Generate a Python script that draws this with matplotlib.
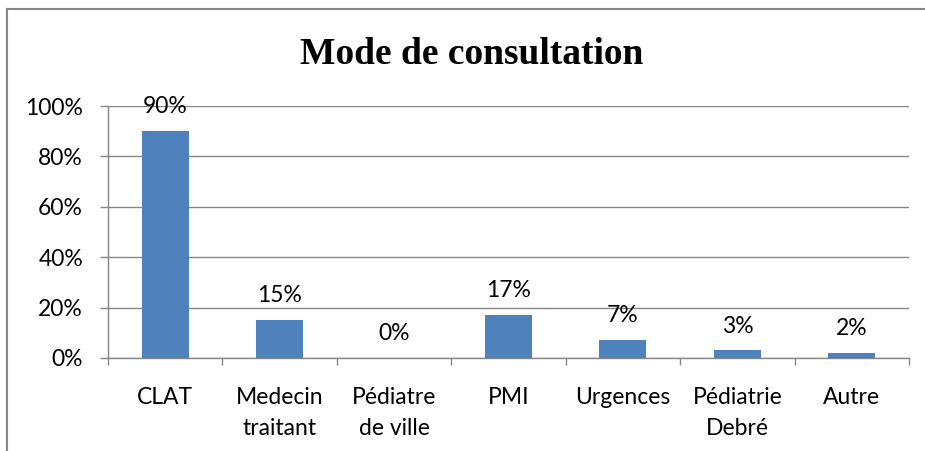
import matplotlib
matplotlib.use('Agg')
import matplotlib.pyplot as plt
from matplotlib.lines import Line2D
import numpy as np

# ── Data ─────────────────────────────────────────────────────
categories = ['CLAT', 'Medecin\ntraitant', 'Pédiatre\nde ville', 'PMI',
              'Urgences', 'Pédiatrie\nDebré', 'Autre']
values = [90, 15, 0, 17, 7, 3, 2]          # percent
y_ticks = [0, 20, 40, 60, 80, 100]
title = 'Mode de consultation'

BAR_COLOR = '#4F81BD'
GRID_COLOR = '#868686'
FS = 16.5

plt.rcParams['font.family'] = ['Lato', 'DejaVu Sans']

fig = plt.figure(figsize=(9.25, 4.51), dpi=100)
ax = fig.add_axes([108 / 925, 1 - 358 / 451, (909 - 108) / 925, (358 - 106) / 451])

x = np.arange(len(categories))
bars = ax.bar(x, values, width=0.41, color=BAR_COLOR, zorder=3)

# data labels
for xi, v in zip(x, values):
    ax.annotate(f'{v}%', (xi, v), xytext=(0, 10), textcoords='offset points',
                ha='center', va='bottom', fontsize=FS, color='black')

# ── Axes styling ─────────────────────────────────────────────
ax.set_xlim(-0.5, len(categories) - 0.5)
ax.set_ylim(0, 100)
ax.set_yticks(y_ticks)
ax.set_yticklabels([f'{t}%' for t in y_ticks], fontsize=FS)
ax.yaxis.grid(True, color=GRID_COLOR, linewidth=1.0, zorder=0)
ax.set_axisbelow(True)

ax.set_xticks(x)
ax.set_xticklabels(categories, fontsize=FS, linespacing=1.6)
ax.set_xticks(np.arange(len(categories) + 1) - 0.5, minor=True)
ax.tick_params(axis='x', which='major', length=0, pad=21)
ax.tick_params(axis='x', which='minor', length=5, color=GRID_COLOR, width=1.0)
ax.tick_params(axis='y', length=6, color=GRID_COLOR, width=1.0, pad=12)

for side in ['top', 'right']:
    ax.spines[side].set_visible(False)
for side in ['left', 'bottom']:
    ax.spines[side].set_color(GRID_COLOR)
    ax.spines[side].set_linewidth(1.0)

# title
fig.text(472 / 925, 1 - 54 / 451, title, ha='center', va='center',
         fontsize=27, fontweight='bold', family='Liberation Serif')

# chart border (left and top edges visible in the frame)
fig.add_artist(Line2D([7 / 925, 7 / 925], [0, 1 - 9 / 451], transform=fig.transFigure,
                      color=GRID_COLOR, linewidth=1.5))
fig.add_artist(Line2D([7 / 925, 1], [1 - 9 / 451, 1 - 9 / 451], transform=fig.transFigure,
                      color=GRID_COLOR, linewidth=1.5))

fig.savefig('out.png', dpi=100)
